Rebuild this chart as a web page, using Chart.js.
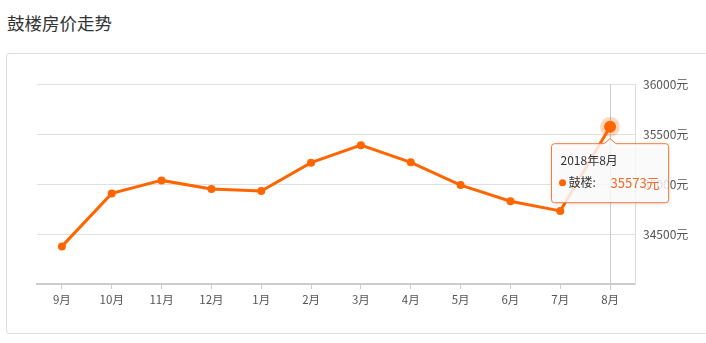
<!DOCTYPE html>
<html>
<head>
<meta charset="utf-8">
<script src="https://cdn.jsdelivr.net/npm/chart.js@4.4.0/dist/chart.umd.min.js"></script>
<style>
  html, body { margin: 0; padding: 0; background: #fff; }
  body { width: 706px; height: 343px; position: relative; overflow: hidden; font-family: "Noto Sans CJK SC", "Noto Sans", sans-serif; }
  #title { position: absolute; left: 7px; top: 11px; font-size: 17.5px; color: #333; line-height: 24px; }
  #box { position: absolute; left: 6px; top: 53px; width: 720px; height: 279px; border: 1px solid #ddd; border-radius: 3px; }
  #wrap { position: absolute; left: 0; top: 0; width: 706px; height: 343px; }
</style>
</head>
<body>
<div id="title">鼓楼房价走势</div>
<div id="box"></div>
<div id="wrap"><canvas id="priceChart"></canvas></div>
<script>
// 数据
const months = ['9月', '10月', '11月', '12月', '1月', '2月', '3月', '4月', '5月', '6月', '7月', '8月'];
const prices = [34376, 34906, 35036, 34949, 34929, 35213, 35388, 35217, 34989, 34828, 34731, 35573];
const seriesName = '鼓楼';
const activeTitle = '2018年8月';
const yTicks = [34000, 34500, 35000, 35500, 36000];

const orange = '#ff6600';
const activeIndex = months.length - 1;
const FONT = '"Noto Sans CJK SC", "Noto Sans", sans-serif';

// 悬停提示 + 十字线
const tipPlugin = {
    id: 'tipPlugin',
    beforeDatasetsDraw(chart) {
        const pt = chart.getDatasetMeta(0).data[activeIndex];
        const area = chart.chartArea;
        const c = chart.ctx;
        c.save();
        c.strokeStyle = '#c8ccd4';
        c.lineWidth = 1;
        c.beginPath();
        c.moveTo(Math.round(pt.x) + 0.5, area.top);
        c.lineTo(Math.round(pt.x) + 0.5, area.bottom + 6);
        c.stroke();
        c.restore();
    },
    afterDatasetsDraw(chart) {
        const pt = chart.getDatasetMeta(0).data[activeIndex];
        const c = chart.ctx;
        c.save();
        // 光晕
        c.fillStyle = 'rgba(255,102,0,0.25)';
        c.beginPath();
        c.arc(pt.x, pt.y, 10, 0, Math.PI * 2);
        c.fill();
        c.fillStyle = orange;
        c.beginPath();
        c.arc(pt.x, pt.y, 6, 0, Math.PI * 2);
        c.fill();

        // 提示框
        const label = seriesName + ':';
        const valueText = prices[activeIndex] + '元';
        c.font = '13px ' + FONT;
        const valW = c.measureText(valueText).width;
        const w = 59 + valW + 9;
        const h = 59;
        const left = pt.x - w / 2;
        const top = pt.y + 17;
        const r = 3;
        c.beginPath();
        c.moveTo(left + r, top);
        c.lineTo(pt.x - 6, top);
        c.lineTo(pt.x, top - 5);
        c.lineTo(pt.x + 6, top);
        c.lineTo(left + w - r, top);
        c.quadraticCurveTo(left + w, top, left + w, top + r);
        c.lineTo(left + w, top + h - r);
        c.quadraticCurveTo(left + w, top + h, left + w - r, top + h);
        c.lineTo(left + r, top + h);
        c.quadraticCurveTo(left, top + h, left, top + h - r);
        c.lineTo(left, top + r);
        c.quadraticCurveTo(left, top, left + r, top);
        c.closePath();
        c.shadowColor = 'rgba(0,0,0,0.15)';
        c.shadowBlur = 4;
        c.shadowOffsetY = 1;
        c.fillStyle = 'rgba(255,255,255,0.82)';
        c.fill();
        c.shadowColor = 'transparent';
        c.strokeStyle = '#f07a3a';
        c.lineWidth = 1;
        c.stroke();

        c.textBaseline = 'middle';
        c.textAlign = 'left';
        c.fillStyle = '#333';
        c.font = '12px ' + FONT;
        c.fillText(activeTitle, left + 9, top + 17);
        c.fillStyle = orange;
        c.beginPath();
        c.arc(left + 11, top + 39, 3.5, 0, Math.PI * 2);
        c.fill();
        c.fillStyle = '#333';
        c.fillText(label, left + 17, top + 39);
        c.fillStyle = '#f26b2a';
        c.font = '13px ' + FONT;
        c.fillText(valueText, left + 59, top + 39);
        c.restore();
    }
};

const ctx = document.getElementById('priceChart').getContext('2d');
const chart = new Chart(ctx, {
    type: 'line',
    data: {
        labels: months,
        datasets: [{
            label: seriesName,
            data: prices,
            borderColor: orange,
            backgroundColor: orange,
            borderWidth: 3,
            tension: 0,
            fill: false,
            pointRadius: 4,
            pointBorderWidth: 0,
            pointBackgroundColor: orange
        }]
    },
    options: {
        responsive: true,
        maintainAspectRatio: false,
        animation: false,
        events: [],
        layout: { padding: { top: 84, left: 37, right: 0, bottom: 0 } },
        plugins: {
            legend: { display: false },
            tooltip: { enabled: false }
        },
        scales: {
            x: {
                offset: true,
                grid: {
                    offset: false,
                    drawOnChartArea: false,
                    drawTicks: true,
                    tickLength: 5,
                    color: '#ccc'
                },
                border: { display: true, color: '#ccc', width: 2 },
                ticks: {
                    color: '#555',
                    font: { size: 11.5, family: FONT },
                    padding: 4,
                    maxRotation: 0,
                    autoSkip: false
                },
                afterFit(scale) { scale.height = 59; }
            },
            y: {
                position: 'right',
                min: yTicks[0],
                max: yTicks[yTicks.length - 1],
                afterBuildTicks(scale) {
                    scale.ticks = yTicks.map(v => ({ value: v }));
                },
                grid: { color: '#e0e0e0', drawTicks: false },
                border: { display: true, color: '#ddd' },
                ticks: {
                    color: '#555',
                    font: { size: 12, family: FONT },
                    padding: 8,
                    callback: v => v === yTicks[0] ? '' : v + '元'
                },
                afterFit(scale) { scale.width = 71; }
            }
        }
    },
    plugins: [tipPlugin]
});
</script>
</body>
</html>
